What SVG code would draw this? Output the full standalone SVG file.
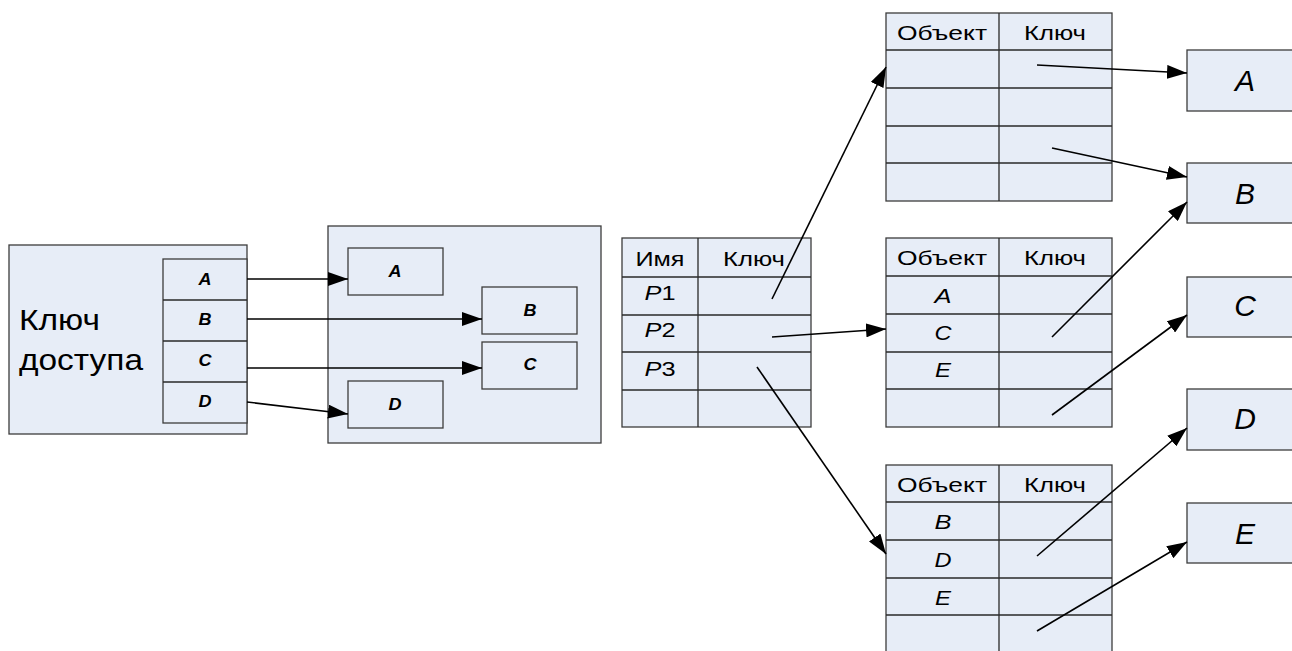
<svg xmlns="http://www.w3.org/2000/svg" width="1292" height="651" viewBox="0 0 1292 651">
<style>
.box{fill:#e7edf7;stroke:#3c3c3c;stroke-width:1.3}
.grid{stroke:#2a2a2a;stroke-width:1.3;fill:none}
.t{font-family:"Liberation Sans",Arial,sans-serif;fill:#000}
.big{font-size:29px}
.tbl{font-size:21px;text-anchor:middle}
.tbli{font-size:21px;text-anchor:middle;font-style:italic}
.sm{font-size:16px;font-weight:bold;font-style:italic;text-anchor:middle}
.obj{font-size:30px;font-style:italic;text-anchor:middle}
.con{stroke:#000;stroke-width:1.6;fill:none}
.arr{marker-end:url(#ah)}
</style>
<defs>
<marker id="ah" markerUnits="userSpaceOnUse" markerWidth="20" markerHeight="14" refX="20" refY="7" orient="auto" viewBox="0 0 20 14">
<path d="M0,0 L20,7 L0,14 z" fill="#000"/>
</marker>
</defs>
<rect width="1292" height="651" fill="#fff"/>

<g id="access-key">
<rect class="box" x="9" y="245" width="238" height="189"/>
<rect class="box" x="163" y="259" width="84" height="164"/>
<path class="grid" d="M163,300 H247 M163,341 H247 M163,382 H247"/>
<text class="t big" x="19" y="330" textLength="81" lengthAdjust="spacingAndGlyphs">Ключ</text>
<text class="t big" x="19" y="370" textLength="124" lengthAdjust="spacingAndGlyphs">доступа</text>
<text class="t sm" x="205" y="285" textLength="13" lengthAdjust="spacingAndGlyphs">A</text>
<text class="t sm" x="205" y="325" textLength="13" lengthAdjust="spacingAndGlyphs">B</text>
<text class="t sm" x="205" y="366" textLength="13" lengthAdjust="spacingAndGlyphs">C</text>
<text class="t sm" x="205" y="407" textLength="13" lengthAdjust="spacingAndGlyphs">D</text>
</g>

<g id="objects">
<rect class="box" x="328" y="226" width="273" height="217"/>
<rect class="box" x="348" y="248" width="95" height="47"/>
<rect class="box" x="482" y="287" width="95" height="47"/>
<rect class="box" x="482" y="342" width="95" height="47"/>
<rect class="box" x="348" y="381" width="95" height="47"/>
<text class="t sm" x="395" y="277" textLength="13" lengthAdjust="spacingAndGlyphs">A</text>
<text class="t sm" x="530" y="316" textLength="13" lengthAdjust="spacingAndGlyphs">B</text>
<text class="t sm" x="530" y="370" textLength="13" lengthAdjust="spacingAndGlyphs">C</text>
<text class="t sm" x="395" y="410" textLength="13" lengthAdjust="spacingAndGlyphs">D</text>
</g>

<g id="name-table">
<rect class="box" x="622" y="238" width="189" height="189"/>
<path class="grid" d="M698,238 V427 M622,277 H811 M622,315 H811 M622,352 H811 M622,390 H811"/>
<text class="t tbl" x="660" y="266" textLength="49" lengthAdjust="spacingAndGlyphs">Имя</text>
<text class="t tbl" x="754" y="266" textLength="62" lengthAdjust="spacingAndGlyphs">Ключ</text>
<text class="t tbl" x="660" y="300" textLength="31" lengthAdjust="spacingAndGlyphs"><tspan font-style="italic">P</tspan>1</text>
<text class="t tbl" x="660" y="337" textLength="31" lengthAdjust="spacingAndGlyphs"><tspan font-style="italic">P</tspan>2</text>
<text class="t tbl" x="660" y="376" textLength="31" lengthAdjust="spacingAndGlyphs"><tspan font-style="italic">P</tspan>3</text>
</g>

<g id="table-p1">
<rect class="box" x="886" y="13" width="226" height="188"/>
<path class="grid" d="M999,13 V201 M886,50 H1112 M886,88 H1112 M886,126 H1112 M886,163 H1112"/>
<text class="t tbl" x="942" y="40" textLength="90" lengthAdjust="spacingAndGlyphs">Объект</text>
<text class="t tbl" x="1055" y="40" textLength="62" lengthAdjust="spacingAndGlyphs">Ключ</text>
</g>

<g id="table-p2">
<rect class="box" x="886" y="238" width="226" height="189"/>
<path class="grid" d="M999,238 V427 M886,276 H1112 M886,314 H1112 M886,352 H1112 M886,389 H1112"/>
<text class="t tbl" x="942" y="265" textLength="90" lengthAdjust="spacingAndGlyphs">Объект</text>
<text class="t tbl" x="1055" y="265" textLength="62" lengthAdjust="spacingAndGlyphs">Ключ</text>
<text class="t tbli" x="943" y="303" textLength="17" lengthAdjust="spacingAndGlyphs">A</text>
<text class="t tbli" x="943" y="340" textLength="17" lengthAdjust="spacingAndGlyphs">C</text>
<text class="t tbli" x="943" y="377" textLength="16" lengthAdjust="spacingAndGlyphs">E</text>
</g>

<g id="table-p3">
<rect class="box" x="886" y="465" width="226" height="195"/>
<path class="grid" d="M999,465 V660 M886,502 H1112 M886,540 H1112 M886,578 H1112 M886,615 H1112"/>
<text class="t tbl" x="942" y="492" textLength="90" lengthAdjust="spacingAndGlyphs">Объект</text>
<text class="t tbl" x="1055" y="492" textLength="62" lengthAdjust="spacingAndGlyphs">Ключ</text>
<text class="t tbli" x="943" y="529" textLength="17" lengthAdjust="spacingAndGlyphs">B</text>
<text class="t tbli" x="943" y="567" textLength="17" lengthAdjust="spacingAndGlyphs">D</text>
<text class="t tbli" x="943" y="605" textLength="16" lengthAdjust="spacingAndGlyphs">E</text>
</g>

<g id="obj-A"><rect class="box" x="1187" y="50" width="112" height="61"/><text class="t obj" x="1245" y="91">A</text></g>
<g id="obj-B"><rect class="box" x="1187" y="163" width="112" height="60"/><text class="t obj" x="1245" y="204">B</text></g>
<g id="obj-C"><rect class="box" x="1187" y="277" width="112" height="60"/><text class="t obj" x="1245" y="316">C</text></g>
<g id="obj-D"><rect class="box" x="1187" y="389" width="112" height="61"/><text class="t obj" x="1245" y="429">D</text></g>
<g id="obj-E"><rect class="box" x="1187" y="503" width="112" height="60"/><text class="t obj" x="1245" y="544">E</text></g>

<g id="connectors">
<line class="con arr" x1="247" y1="279" x2="348" y2="279"/>
<line class="con arr" x1="247" y1="319" x2="482" y2="319"/>
<line class="con arr" x1="247" y1="368" x2="482" y2="368"/>
<line class="con arr" x1="247" y1="402" x2="348" y2="414"/>
<line class="con arr" x1="772" y1="299" x2="886" y2="67"/>
<line class="con arr" x1="772" y1="337" x2="886" y2="329"/>
<line class="con arr" x1="757" y1="367" x2="886" y2="554"/>
<line class="con arr" x1="1037" y1="65" x2="1187" y2="73"/>
<line class="con arr" x1="1052" y1="148" x2="1187" y2="177"/>
<line class="con arr" x1="1052" y1="337" x2="1187" y2="202"/>
<line class="con arr" x1="1052" y1="415" x2="1187" y2="315"/>
<line class="con arr" x1="1037" y1="556" x2="1187" y2="428"/>
<line class="con arr" x1="1037" y1="631" x2="1187" y2="542"/>
</g>
</svg>
